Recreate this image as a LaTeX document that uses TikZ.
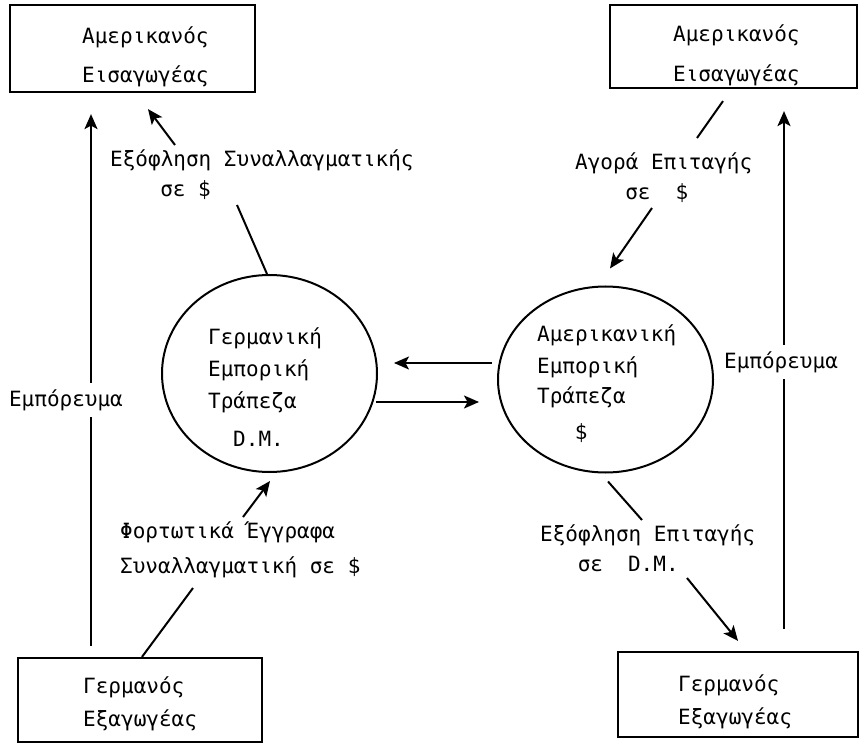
\documentclass[tikz,border=0pt]{standalone}
\usepackage{fontspec}
\newfontfamily\tw{DejaVu Sans Mono}
\usetikzlibrary{arrows.meta,shapes.geometric}
\newlength\tcell \setlength\tcell{12.52pt}
\newcommand\tgap[1]{\hspace*{#1\tcell}}
\begin{document}
\begin{tikzpicture}[x=1pt,y=-1pt,
  box/.style={draw, line width=2.2pt, rectangle, inner sep=0pt},
  bank/.style={draw, ellipse, line width=2pt, inner sep=0pt},
  txt/.style={font=\tw\fontsize{21}{32}\selectfont, align=left, anchor=west, inner sep=0pt},
  lbl/.style={txt, fill=white, anchor=center, inner xsep=0pt, inner ysep=6pt},
  link/.style={line width=2pt},
  arr/.style={link, -{Stealth[length=15pt,width=13pt,inset=3.5pt]}}]
\fill[white] (0,0) rectangle (859,743);
\useasboundingbox (0,0) rectangle (859,743);

% boxes and banks
\node[box, minimum width=245pt, minimum height=87pt] (tl) at (132.5,48.5) {};
\node[box, minimum width=247pt, minimum height=83pt] (tr) at (733.5,46.5) {};
\node[box, minimum width=244pt, minimum height=84pt] (bl) at (140,700) {};
\node[box, minimum width=240pt, minimum height=85pt] (br) at (738,694.5) {};
\node[bank, minimum width=215pt, minimum height=197pt] (gb) at (269.5,373.5) {};
\node[bank, minimum width=215pt, minimum height=186pt] (ab) at (605.5,379.5) {};

% texts
\node[txt] (tlt) at (82,56.5) {Αμερικανός\\[7pt]Εισαγωγέας};
\node[txt] (trt) at (673,55) {Αμερικανός\\[8pt]Εισαγωγέας};
\node[txt] (blt) at (83,703.5) {Γερμανός\\[1pt]Εξαγωγέας};
\node[txt] (brt) at (678,701.5) {Γερμανός\\[1pt]Εξαγωγέας};
\node[txt] (gbt) at (208,387) {Γερμανική\\Εμπορική\\Τράπεζα\\[6pt]\tgap{2}D.M.};
\node[txt] (abt) at (537,384) {Αμερικανική\\Εμπορική\\[-2pt]Τράπεζα\\[4pt]\tgap{3}\$};

% labels
\node[txt] (l1) at (110,175) {Εξόφληση Συναλλαγματικής\\[-2pt]\tgap{4}σε\tgap{1}\$};
\node[txt] (l2) at (575,178) {Αγορά Επιταγής\\[-2pt]\tgap{4}σε\tgap{2}\$};
\node[txt] (l3) at (120,549.5) {Φορτωτικά Έγγραφα\\[3pt]Συναλλαγματική σε \$};
\node[txt] (l4) at (540,548) {Εξόφληση Επιταγής\\[-2pt]\tgap{3}σε\tgap{2}D.M.};

% goods flows
\draw[arr] ([shift={(-49,-11)}]bl.north) -- ([shift={(-41.5,21)}]tl.south);
\node[lbl] (m1) at (66,400) {Εμπόρευμα};
\draw[arr] ([shift={(46,-22)}]br.north) -- ([shift={(50.5,22)}]tr.south);
\node[lbl] (m2) at (781,362) {Εμπόρευμα};

% payment flows
\draw[arr] ([shift={(65,-30)}]l1.west) -- ([shift={(15.5,16)}]tl.south);
\draw[link] ([shift={(127,30)}]l1.west) -- ([shift={(-2.5,0)}]gb.north);

\draw[link] ([shift={(-10.5,12)}]tr.south) -- ([shift={(122,-40)}]l2.west);
\draw[arr] ([shift={(77,30)}]l2.west) -- ([shift={(4.5,-17)}]ab.north);

\draw[arr] ([shift={(123,-32.5)}]l3.west) -- ([shift={(0.5,8)}]gb.south);
\draw[link] ([shift={(73,38.5)}]l3.west) -- ([shift={(2,0)}]bl.north);

\draw[link] ([shift={(2.5,8)}]ab.south) -- ([shift={(102,-28)}]l4.west);
\draw[arr] ([shift={(147,30)}]l4.west) -- ([shift={(0,-10)}]br.north);

% interbank flows
\draw[arr] ([shift={(-5,-16.5)}]ab.west) -- ([shift={(16,-10.5)}]gb.east);
\draw[arr] ([shift={(-2,28.5)}]gb.east) -- ([shift={(-18,22.5)}]ab.west);
\end{tikzpicture}
\end{document}
